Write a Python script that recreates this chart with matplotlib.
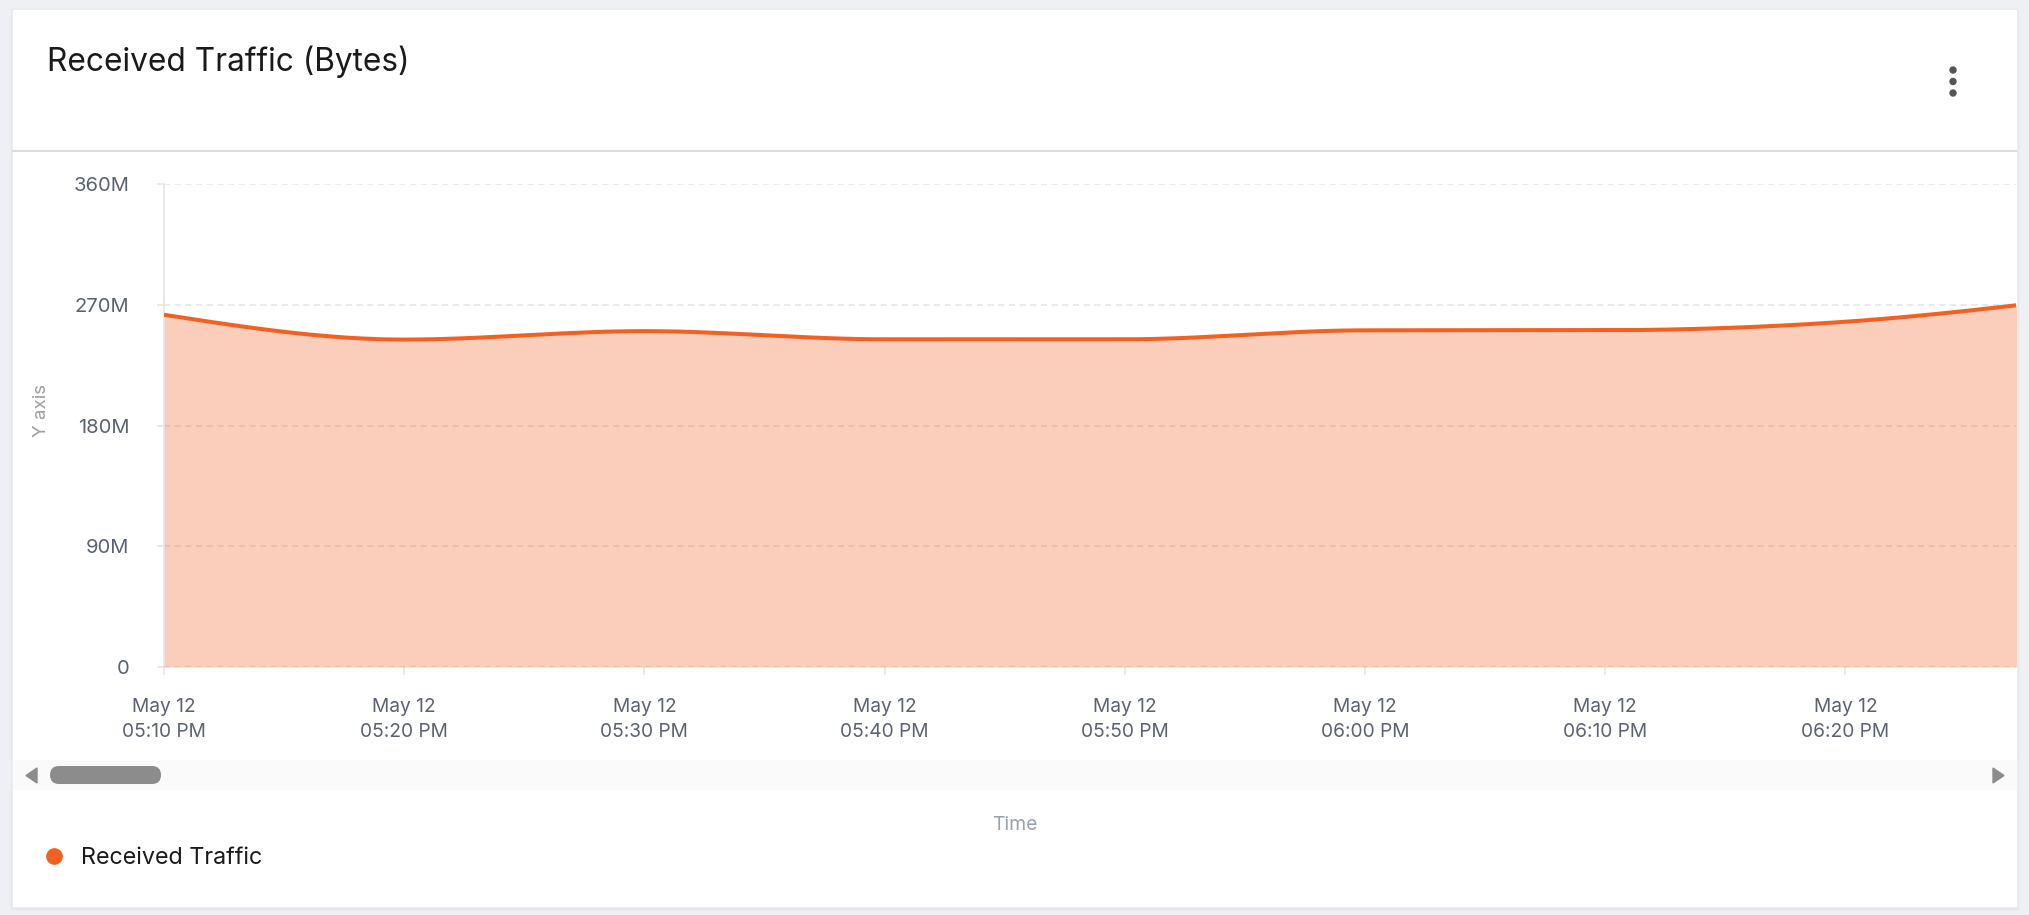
import numpy as np
import matplotlib
matplotlib.use("Agg")
import matplotlib.pyplot as plt
import matplotlib.dates as mdates
from matplotlib.transforms import Affine2D
from matplotlib.patches import Rectangle, FancyBboxPatch, Polygon, Circle
from matplotlib.lines import Line2D
from datetime import datetime, timedelta

# ---------------- data ----------------
times = ["2024-05-12 17:10", "2024-05-12 17:20", "2024-05-12 17:30",
         "2024-05-12 17:40", "2024-05-12 17:50", "2024-05-12 18:00",
         "2024-05-12 18:10", "2024-05-12 18:20", "2024-05-12 18:30"]
received_mb = [262.8, 244.3, 250.6, 244.5, 244.5, 251.2, 251.3, 257.6, 276.0]
y_ticks = [0, 90, 180, 270, 360]
y_tick_labels = ["0", "90M", "180M", "270M", "360M"]
title = "Received Traffic (Bytes)"
series_name = "Received Traffic"
visible_minutes = 77.1

LINE = "#F26122"
FONT = ["Inter", "DejaVu Sans"]
plt.rcParams["font.family"] = FONT

W, H = 2029, 915
fig = plt.figure(figsize=(W / 100, H / 100), dpi=100)
fig.patch.set_facecolor("#EEF0F3")
pix = Affine2D().scale(1 / W, -1 / H).translate(0, 1) + fig.transFigure

# card
fig.add_artist(Rectangle((11, 9), 2007, 900, transform=pix, color="#E6E8EB", zorder=-3))
fig.add_artist(Rectangle((13, 10), 2003, 896, transform=pix, color="white", zorder=-2))
# header divider
fig.add_artist(Line2D([13, 2016], [151, 151], transform=pix, color="#DCDCDC", lw=1.5, zorder=-1))
fig.text(47, 62, title, transform=pix, fontsize=22.8, color="#1A1A1A",
         va="center", ha="left")
for yy in (70, 81.5, 93):
    fig.add_artist(Circle((1953, yy), 3.0, transform=pix, color="#555555"))

# scrollbar band
fig.add_artist(Rectangle((13, 760), 2003, 29, transform=pix, color="#FAFAFA", zorder=-1))

# ---------------- axes ----------------
x0, x1, y0, y1 = 164, 2016, 667, 184.5
ax = fig.add_axes([x0 / W, 1 - y0 / H, (x1 - x0) / W, (y0 - y1) / H])
ax.set_facecolor("none")

t = np.array([mdates.date2num(datetime.strptime(s, "%Y-%m-%d %H:%M")) for s in times])
v = np.array(received_mb, dtype=float)


def monotone(x, y, n=60):
    h = np.diff(x)
    s = np.diff(y) / h
    m = np.zeros_like(y)
    for i in range(1, len(y) - 1):
        p = (s[i - 1] * h[i] + s[i] * h[i - 1]) / (h[i - 1] + h[i])
        m[i] = (np.sign(s[i - 1]) + np.sign(s[i])) * min(abs(s[i - 1]), abs(s[i]), 0.5 * abs(p))
    m[0] = (3 * s[0] - m[1]) / 2
    m[-1] = (3 * s[-1] - m[-2]) / 2
    xs, ys = [], []
    for i in range(len(x) - 1):
        u = np.linspace(0, 1, n)
        hh = h[i]
        h00 = 2 * u**3 - 3 * u**2 + 1
        h10 = u**3 - 2 * u**2 + u
        h01 = -2 * u**3 + 3 * u**2
        h11 = u**3 - u**2
        xs.append(x[i] + u * hh)
        ys.append(h00 * y[i] + h10 * hh * m[i] + h01 * y[i + 1] + h11 * hh * m[i + 1])
    return np.concatenate(xs), np.concatenate(ys)


xs, ys = monotone(t, v)
ax.fill_between(xs, ys, 0, color=LINE, alpha=0.31, lw=0, zorder=2)
ax.plot(xs, ys, color=LINE, lw=2.9, zorder=3, solid_capstyle="butt")

start = mdates.num2date(t[0]).replace(tzinfo=None)
ax.set_xlim(t[0], mdates.date2num(start + timedelta(minutes=visible_minutes)))
ax.set_ylim(0, 360)
ax.set_yticks(y_ticks)
ax.set_yticklabels(y_tick_labels)
ax.xaxis.set_major_locator(mdates.MinuteLocator(byminute=range(0, 60, 10)))
ax.xaxis.set_major_formatter(mdates.DateFormatter("%b %d\n%I:%M %p"))

ax.set_axisbelow(True)
ax.grid(axis="y", color="#E3E3E3", lw=1.1, ls=(0, (4, 3)))
for sp in ("top", "right", "bottom"):
    ax.spines[sp].set_visible(False)
ax.spines["left"].set_color("#E3E3E3")
ax.spines["left"].set_linewidth(1.1)
ax.tick_params(axis="y", length=5, width=1.1, color="#E3E3E3", pad=20,
               labelsize=14.5, labelcolor="#5B6270")
ax.tick_params(axis="x", length=6, width=1.1, color="#E3E3E3", pad=16,
               labelsize=13.8, labelcolor="#5B6270")
for lab in ax.get_xticklabels():
    lab.set_linespacing(1.55)
    lab.set_horizontalalignment("center")

ax.set_ylabel("Y axis", fontsize=13.5, color="#9E9E9E", va="center")
ax.yaxis.set_label_coords((41 - x0) / (x1 - x0), (y0 - 411) / (y0 - y1))
ax.set_xlabel("Time", fontsize=14, color="#98A0AC")
ax.xaxis.set_label_coords((1014.5 - x0) / (x1 - x0), (y0 - 825) / (y0 - y1))
ax.xaxis.label.set_verticalalignment("center")

# ---------------- scrollbar controls ----------------
fig.add_artist(FancyBboxPatch((50, 766), 111, 18, transform=pix,
                              boxstyle="round,pad=0,rounding_size=9",
                              mutation_aspect=1, color="#8C8C8C", lw=0, zorder=2))
fig.add_artist(Polygon([(26, 775.5), (37, 768), (37, 783)], closed=True,
                       transform=pix, color="#8C8C8C", zorder=2))
fig.add_artist(Polygon([(2004, 775.5), (1993, 768), (1993, 783)], closed=True,
                       transform=pix, color="#8C8C8C", zorder=2))

# ---------------- legend ----------------
handle = Line2D([], [], marker="o", color=LINE, linestyle="none", markersize=11)
leg = fig.legend([handle], [series_name], loc="center left",
                 bbox_to_anchor=(43 / W, 1 - 858 / H), frameon=False,
                 handlelength=0.9, handletextpad=0.72, borderpad=0, borderaxespad=0,
                 prop={"size": 16.8, "family": FONT})
for txt in leg.get_texts():
    txt.set_color("#1A1A1A")

fig.savefig("out.png", dpi=100, facecolor=fig.get_facecolor())
